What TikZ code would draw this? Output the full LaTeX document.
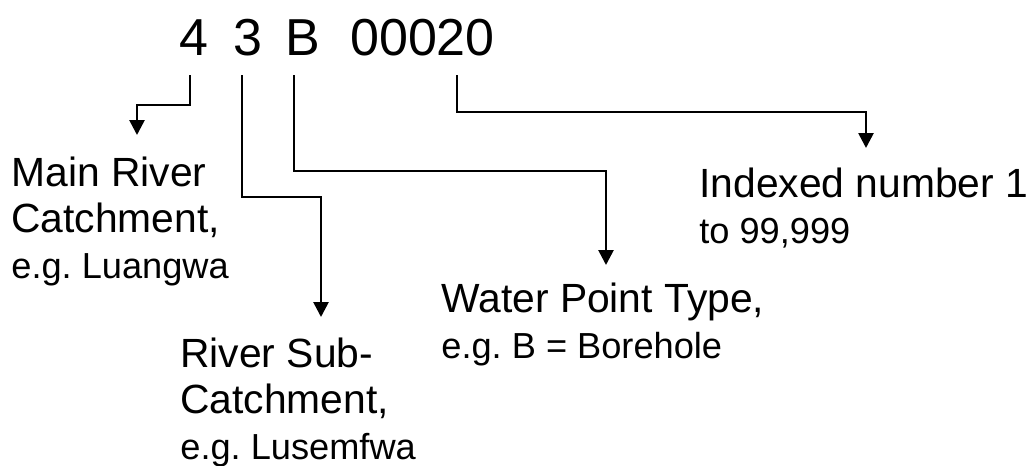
\documentclass[tikz,border=0pt]{standalone}
\usepackage{fontspec}
\setmainfont{Liberation Sans}
\usetikzlibrary{arrows.meta}
\begin{document}
\begin{tikzpicture}[x=0.5pt,y=-0.5pt,
  conn/.style={line width=1.35pt,-{Triangle[width=7.5pt,length=7.5pt]}},
  code/.style={inner sep=0pt,anchor=base,font=\fontsize{26}{30}\selectfont},
  lab/.style={inner sep=0pt,anchor=base west,align=left,font=\fontsize{20.4}{23}\selectfont\frenchspacing}]
\useasboundingbox (0,0) rectangle (1030,466);
% code characters
\node[code] (d4) at (194,55) {4};
\node[code] (d3) at (248,55) {3};
\node[code] (dB) at (303,55) {B};
\node[code] (dn) at (422.5,55) {00020};
% labels (anchor = baseline of the last line)
\node[lab] (main) at (11,278) {Main River\\Catchment,\\{\fontsize{18.1}{23}\selectfont e.g. Luangwa}};
\node[lab] (sub) at (180,459) {River Sub-\\Catchment,\\{\fontsize{18.1}{23}\selectfont e.g. Lusemfwa}};
\node[lab] (wpt) at (441,358) {Water Point Type,\\{\fontsize{18.1}{23}\selectfont e.g. B = Borehole}};
\node[lab] (idx) at (699,243) {Indexed number 1\\{\fontsize{18.1}{23}\selectfont to 99,999}};
% connector ends
\coordinate (s4) at (190,75);
\coordinate (s3) at (242,75);
\coordinate (sB) at (294,75);
\coordinate (sn) at (457,75);
\coordinate (e4) at (137,135);
\coordinate (e3) at (321,317);
\coordinate (eB) at (606,265);
\coordinate (en) at (866,148);
% connectors
\draw[conn] (s4) -- (s4 |- 0,105) -| (e4);
\draw[conn] (s3) -- (s3 |- 0,197) -| (e3);
\draw[conn] (sB) -- (sB |- 0,171) -| (eB);
\draw[conn] (sn) -- (sn |- 0,112) -| (en);
\end{tikzpicture}
\end{document}
